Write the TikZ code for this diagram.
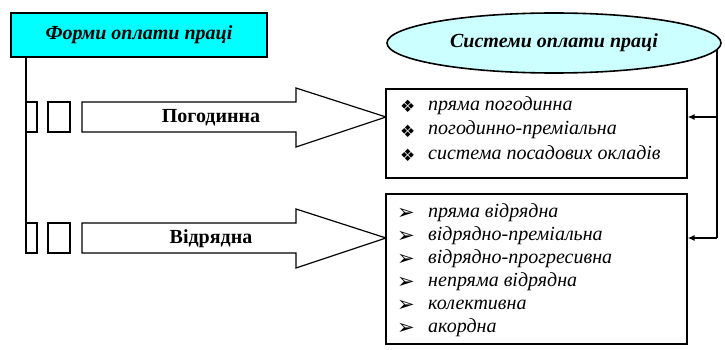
\documentclass[tikz,border=0pt]{standalone}
\usepackage{fontspec}
\setmainfont{Liberation Serif}
\newfontfamily\symfont{DejaVu Sans}
\usetikzlibrary{shapes.geometric,arrows.meta}
\definecolor{boxcyan}{RGB}{0,255,255}
\definecolor{ellcyan}{RGB}{204,255,255}
\tikzset{
  line/.style={line width=1.6pt},
  blockarrow/.style={draw, line width=1.2pt, fill=white},
  smallbox/.style={draw, line width=1.2pt},
  listbox/.style={draw, line width=1.6pt, fill=white, anchor=north west, inner sep=0pt},
  item/.style={anchor=west, inner sep=0pt, font=\fontsize{20}{20}\selectfont\itshape, text height=13pt, text depth=5pt},
  bulA/.style={anchor=west, inner sep=0pt, font=\fontsize{17}{17}\symfont},
  bulB/.style={anchor=west, inner sep=0pt, font=\fontsize{21}{21}\symfont},
  conn/.style={line width=1.6pt, -{Latex[length=7pt,width=6pt]}},
  label/.style={font=\fontsize{20}{20}\selectfont\bfseries, inner sep=0pt},
}
\begin{document}
\begin{tikzpicture}[x=1pt,y=-1pt]
\useasboundingbox (0,0) rectangle (725,350);
% title box
\node[draw, line width=2pt, fill=boxcyan, minimum width=256pt, minimum height=44pt, inner sep=0pt,
      font=\fontsize{20}{20}\selectfont\bfseries\itshape] (forms) at (139,35) {Форми оплати праці};
% ellipse
\node[ellipse, draw, line width=1.6pt, fill=ellcyan, minimum width=334pt, minimum height=60pt, inner sep=0pt,
      font=\fontsize{20}{20}\selectfont\bfseries\itshape] (sys) at (554,43) {Системи оплати праці};
% left vertical line
\coordinate (lt) at (26,57);
\coordinate (lb) at (26,252);
\draw[line] (lt) -- (lb);
% small boxes and block arrows
\foreach \y in {117,238}{
  \draw[smallbox] (26,\y-15) rectangle (37,\y+15);
  \draw[smallbox] (48,\y-15) rectangle (70,\y+15);
  \draw[blockarrow] (82,\y-15) -- (296,\y-15) -- (296,\y-29) -- (386,\y) -- (296,\y+30) -- (296,\y+15) -- (82,\y+15) -- cycle;
}
\node[label] (pog) at (211,118) {Погодинна};
\node[label] (vid) at (211,239) {Відрядна};
% list boxes
\node[listbox, minimum width=301pt, minimum height=89pt] (b1) at (385,88) {};
\node[listbox, minimum width=301pt, minimum height=150pt] (b2) at (385,193) {};
% items box 1
\foreach \t [count=\i] in {пряма погодинна, погодинно-преміальна, система посадових окладів}{
  \node[bulA] (p\i) at (400,81.5+\i*24.7) {❖};
  \node[item] (q\i) at (428,81.5+\i*24.7) {\t};
}
% items box 2
\foreach \t [count=\i] in {пряма відрядна, відрядно-преміальна, відрядно-прогресивна, непряма відрядна, колективна, акордна}{
  \node[bulB] (r\i) at (397,190.5+\i*23) {➢};
  \node[item] (s\i) at (428,190.5+\i*23) {\t};
}
% right connectors
\coordinate (rt) at (717,50);
\draw[line] (rt) -- (717,238);
\draw[conn] (717,117) -- (b1.east |- 0,117);
\draw[conn] (717,238) -- (b2.east |- 0,238);
\end{tikzpicture}
\end{document}
